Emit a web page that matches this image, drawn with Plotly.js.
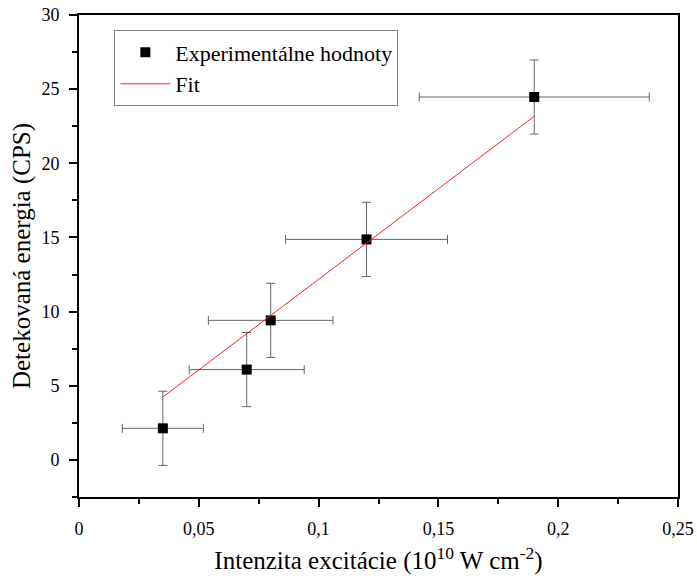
<!DOCTYPE html>
<html><head><meta charset="utf-8">
<script src="https://cdn.plot.ly/plotly-3.0.1.min.js"></script>
<style>html,body{margin:0;padding:0;background:#fff}</style>
</head><body>
<div id="chart" style="width:697px;height:581px"></div>
<script>
const xVals = [0.035, 0.070, 0.080, 0.120, 0.190];
const yVals = [2.13, 6.09, 9.41, 14.87, 24.47];
const xErr = [0.0169, 0.024, 0.026, 0.0338, 0.048];
const yErr = [2.5, 2.5, 2.5, 2.5, 2.5];
const fitX = [0.035, 0.190];
const fitY = [4.24, 23.17];
const seriesNames = ["Experimentálne hodnoty", "Fit"];

const font = "Liberation Serif";
const traces = [
  {x: xVals, y: yVals, name: seriesNames[0], type: 'scatter', mode: 'markers',
   marker: {symbol: 'square', size: 10, color: '#000'},
   error_x: {type: 'data', array: xErr, visible: true, color: '#666', thickness: 1, width: 4.5},
   error_y: {type: 'data', array: yErr, visible: true, color: '#666', thickness: 1, width: 4.5}},
  {x: fitX, y: fitY, name: seriesNames[1], type: 'scatter', mode: 'lines',
   line: {color: '#ff2020', width: 1}}
];
const axisCommon = {
  showline: true, linecolor: '#000', linewidth: 2, mirror: true,
  ticks: 'outside', ticklen: 8, tickwidth: 2, tickcolor: '#000',
  showgrid: false, zeroline: false,
  tickfont: {family: font, size: 18, color: '#000'}
};
const layout = {
  width: 697, height: 581,
  margin: {l: 79, r: 19, t: 15, b: 84},
  paper_bgcolor: '#fff', plot_bgcolor: '#fff',
  separators: ', ',
  font: {family: font, color: '#000'},
  showlegend: true,
  legend: {x: 0.059, y: 0.968, xanchor: 'left', yanchor: 'top',
    bordercolor: '#888', borderwidth: 1, bgcolor: '#fff',
    font: {family: font, size: 22, color: '#000'}, itemwidth: 50, tracegroupgap: 0},
  xaxis: Object.assign({}, axisCommon, {
    range: [0, 0.25], dtick: 0.05, tick0: 0, ticklabelstandoff: 6,
    minor: {dtick: 0.025, ticks: 'outside', ticklen: 5, tickwidth: 2, tickcolor: '#000'},
    title: {text: 'Intenzita excitácie (10<sup>10</sup> W cm<sup>-2</sup>)', font: {family: font, size: 25, color: '#000'}, standoff: 14}
  }),
  yaxis: Object.assign({}, axisCommon, {
    range: [-2.5, 30], dtick: 5, tick0: 0, ticklabelstandoff: 6,
    minor: {dtick: 2.5, ticks: 'outside', ticklen: 5, tickwidth: 2, tickcolor: '#000'},
    title: {text: 'Detekovaná energia (CPS)', font: {family: font, size: 25, color: '#000'}, standoff: 4}
  })
};
Plotly.newPlot('chart', traces, layout, {displayModeBar: false, staticPlot: true});
</script>
</body></html>
